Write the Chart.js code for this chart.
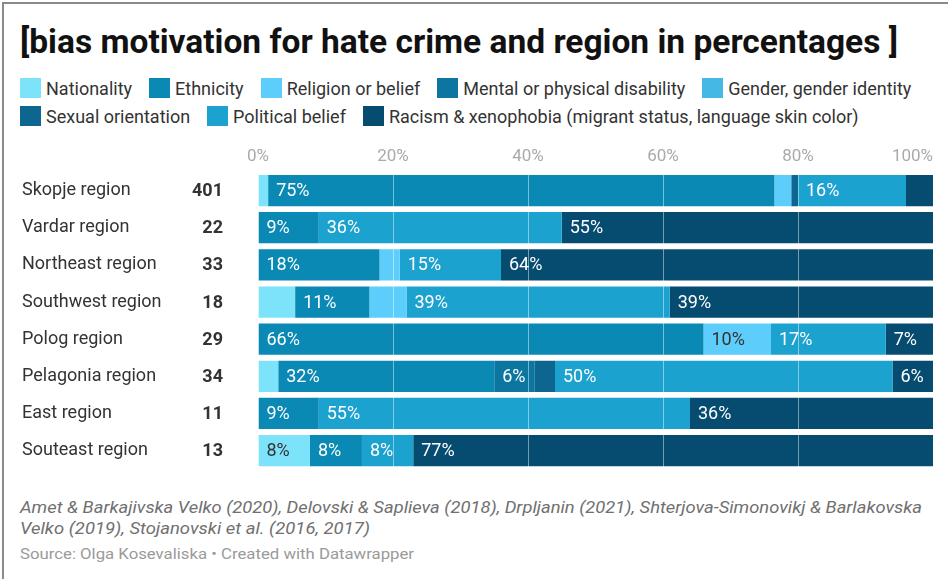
<!DOCTYPE html>
<html>
<head>
<meta charset="utf-8">
<script src="https://cdn.jsdelivr.net/npm/chart.js@4.4.1/dist/chart.umd.min.js"></script>
<style>
body { margin: 0; width: 948px; height: 579px; background: #fff; font-family: Roboto, sans-serif; overflow: hidden; position: relative; }
#frame { position: absolute; left: 2px; top: 2px; right: 0; bottom: 0; border-left: 2px solid #8a8a8a; border-top: 2px solid #8a8a8a; }
.fit { position: absolute; left: 20px; white-space: nowrap; transform-origin: 0 50%; }
#title { top: 19px; font-size: 34px; font-weight: 700; color: #111; line-height: 44px; }
#legend { position: absolute; left: 20px; top: 77px; width: 925px; display: flex; flex-wrap: wrap; column-gap: 17px; row-gap: 6px; font-size: 18px; color: #333; }
.item { display: flex; align-items: center; height: 22px; }
.sw { width: 21px; height: 20px; margin-right: 5px; }
#wrap { position: absolute; left: 0; top: 141px; }
.note { font-size: 17px; font-style: italic; color: #707070; line-height: 22px; }
.src { font-size: 15px; color: #9a9a9a; line-height: 20px; }
</style>
</head>
<body>
<div id="frame"></div>
<div id="title" class="fit" data-w="878">[bias motivation for hate crime and region in percentages ]</div>
<div id="legend"></div>
<div id="wrap"><canvas id="grafico" width="948" height="342"></canvas></div>
<div class="fit note" style="top:496px" data-w="902">Amet &amp; Barkajivska Velko (2020), Delovski &amp; Saplieva (2018), Drpljanin (2021), Shterjova-Simonovikj &amp; Barlakovska</div>
<div class="fit note" style="top:517px" data-w="350">Velko (2019), Stojanovski et al. (2016, 2017)</div>
<div class="fit src" style="top:544px" data-w="394">Source: Olga Kosevaliska • Created with Datawrapper</div>

<script>
// Datos
var regiones = ['Skopje region', 'Vardar region', 'Northeast region', 'Southwest region',
                'Polog region', 'Pelagonia region', 'East region', 'Souteast region'];
var casos = [401, 22, 33, 18, 29, 34, 11, 13];

var series = ['Nationality', 'Ethnicity', 'Religion or belief', 'Mental or physical disability',
              'Gender, gender identity', 'Sexual orientation', 'Political belief',
              'Racism & xenophobia (migrant status, language skin color)'];

var nacionalidad = [1.5, 0, 0, 5.5, 0, 3, 0, 7.7];
var etnicidad    = [75, 9, 18, 11, 66, 32, 9, 7.7];
var religion     = [2.5, 0, 3, 5.5, 10, 0, 0, 0];
var discapacidad = [0, 0, 0, 0, 0, 6, 0, 0];
var genero       = [0, 0, 0, 0, 0, 0, 0, 0];
var orientacion  = [1, 0, 0, 0, 0, 3, 0, 0];
var politica     = [16, 36, 15, 39, 17, 50, 55, 7.6];
var racismo      = [4, 55, 64, 39, 7, 6, 36, 77];

var ticksX = [0, 20, 40, 60, 80, 100];

// Colores
var colores = ['#7de3fb', '#0a89b4', '#5dcdfb', '#0c76a0', '#45b8e6', '#0d6690', '#1ca2cf', '#064b70'];
var coloresTexto = ['#333', '#fff', '#333', '#fff', '#fff', '#fff', '#fff', '#fff'];

var valores = [nacionalidad, etnicidad, religion, discapacidad, genero, orientacion, politica, racismo];

// Leyenda
var leyenda = document.getElementById('legend');
series.forEach(function (nombre, i) {
    var it = document.createElement('div');
    it.className = 'item';
    it.innerHTML = '<span class="sw" style="background:' + colores[i] + '"></span>' + nombre.replace('&', '&amp;');
    leyenda.appendChild(it);
});

Chart.defaults.font.family = 'Roboto, sans-serif';

// Etiquetas dentro de las barras, ticks del eje x y numero de casos
var etiquetas = {
    id: 'etiquetas',
    afterDatasetsDraw: function (chart) {
        var c = chart.ctx;
        c.save();
        c.font = '18px Roboto';
        c.textBaseline = 'middle';
        c.textAlign = 'left';
        chart.data.datasets.forEach(function (ds, d) {
            chart.getDatasetMeta(d).data.forEach(function (bar, i) {
                var v = ds.data[i];
                if (v < 6) return;
                c.fillStyle = coloresTexto[d];
                c.fillText(Math.round(v) + '%', Math.min(bar.base, bar.x) + 8, bar.y + 1);
            });
        });
        c.restore();
    },
    afterDraw: function (chart) {
        var c = chart.ctx;
        var area = chart.chartArea;
        var x = chart.scales.x, y = chart.scales.y;
        c.save();
        c.textBaseline = 'middle';
        c.font = '17px Roboto';
        c.fillStyle = '#aaa';
        ticksX.forEach(function (t, k) {
            c.textAlign = k === ticksX.length - 1 ? 'right' : 'center';
            c.fillText(t + '%', x.getPixelForValue(t), area.top - 15);
        });
        c.font = 'bold 18px Roboto';
        c.fillStyle = '#333';
        c.textAlign = 'right';
        casos.forEach(function (n, i) {
            c.fillText(n, area.left - 35, y.getPixelForValue(i) + 1);
        });
        c.restore();
    }
};

var grafico = new Chart(document.getElementById('grafico').getContext('2d'), {
    type: 'bar',
    data: {
        labels: regiones,
        datasets: series.map(function (nombre, i) {
            return {
                label: nombre,
                data: valores[i],
                backgroundColor: colores[i],
                borderWidth: 0,
                barPercentage: 0.84,
                categoryPercentage: 1
            };
        })
    },
    options: {
        indexAxis: 'y',
        responsive: false,
        animation: false,
        layout: { padding: { left: 22, right: 15, top: 0, bottom: 0 } },
        plugins: { legend: { display: false }, tooltip: { enabled: false } },
        scales: {
            x: {
                stacked: true,
                position: 'top',
                min: 0,
                max: 100,
                ticks: { display: false, stepSize: 20 },
                grid: { color: 'rgba(255,255,255,0.45)', drawTicks: false, z: 1 },
                border: { display: false },
                afterFit: function (s) { s.height = 31; }
            },
            y: {
                stacked: true,
                grid: { display: false },
                border: { display: false },
                ticks: { crossAlign: 'far', color: '#333', font: { size: 18 } },
                afterFit: function (s) { s.width = 236; }
            }
        }
    },
    plugins: [etiquetas]
});

// Ajusta textos condensados al ancho del original
document.querySelectorAll('.fit').forEach(function (el) {
    var w = el.getBoundingClientRect().width;
    el.style.transform = 'scaleX(' + (el.dataset.w / w) + ')';
});
</script>
</body>
</html>
